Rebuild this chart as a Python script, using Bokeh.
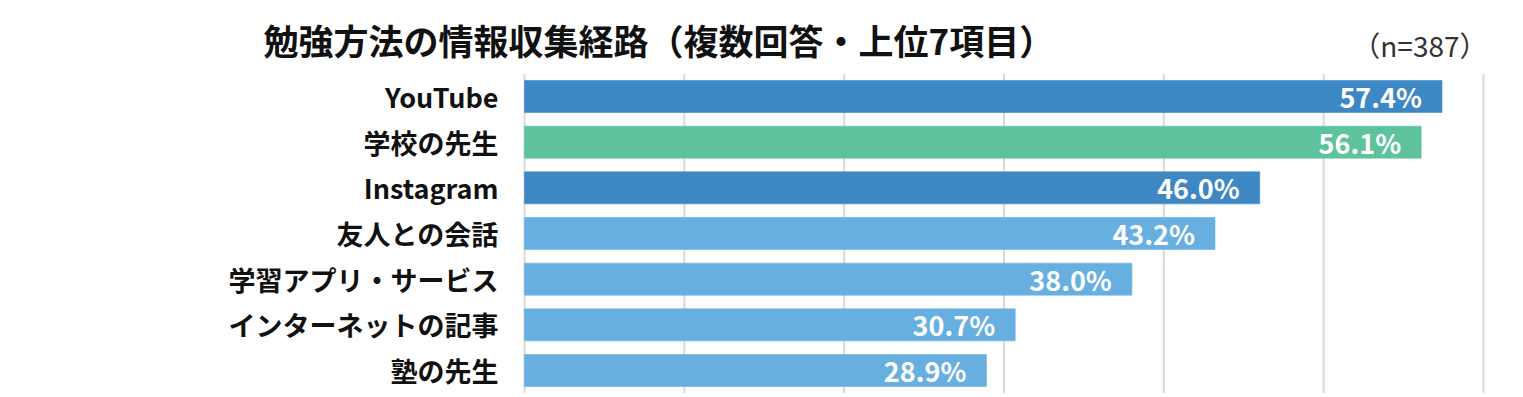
from bokeh.plotting import figure
from bokeh.models import ColumnDataSource, Range1d, Label
from bokeh.core.properties import value
from bokeh.embed import file_html
from bokeh.resources import INLINE

title_text = "勉強方法の情報収集経路（複数回答・上位7項目）"
n_text = "（n=387）"
categories = ["YouTube", "学校の先生", "Instagram", "友人との会話",
              "学習アプリ・サービス", "インターネットの記事", "塾の先生"]
values = [57.4, 56.1, 46.0, 43.2, 38.0, 30.7, 28.9]
colors = ["#3C87C4", "#5EC39D", "#3C87C4", "#67AFE0", "#67AFE0", "#67AFE0", "#67AFE0"]
grid_ticks = [0, 10, 20, 30, 40, 50, 60]

W, H = 1523, 397
# pixel layout of the plotting region
x0_px, x60_px = 524, 1483
top_c, bot_c = 96, 370
ppu = (x60_px - x0_px) / 60.0
step = (bot_c - top_c) / (len(categories) - 1)

pos = list(range(len(categories)))
labels = [f"{v:.1f}%" for v in values]
src = ColumnDataSource(dict(pos=pos, cat=categories, val=values, col=colors, lab=labels))

JP = "Noto Sans CJK JP"

p = figure(width=W, height=H, output_backend="svg", toolbar_location=None,
           x_range=Range1d(-x0_px / ppu, 60 + (W - x60_px) / ppu),
           y_range=Range1d(len(categories) - 1 + (H - bot_c) / step, -top_c / step),
           min_border=0)
p.outline_line_color = None
p.axis.visible = False
p.grid.visible = False

# gridlines (and axis line at 0)
gsrc = ColumnDataSource(dict(x=grid_ticks, y0=[-0.5] * len(grid_ticks),
                             y1=[len(categories) - 0.5] * len(grid_ticks)))
p.segment(x0="x", y0="y0", x1="x", y1="y1", source=gsrc,
          line_color="#D9D9D9", line_width=2)

p.hbar(y="pos", right="val", left=0, height=0.7, source=src,
       fill_color="col", line_color="col", line_alpha=0.6)

p.text(x="val", y="pos", text="lab", source=src, x_offset=-20,
       text_align="right", text_baseline="middle", text_color="white",
       text_font=value(JP), text_font_style="bold", text_font_size="27px")

p.text(x=0, y="pos", text="cat", source=src, x_offset=-26,
       text_align="right", text_baseline="middle", text_color="#111111",
       text_font=value(JP), text_font_style="bold", text_font_size="27px")

p.add_layout(Label(x=263, y=H - 39, x_units="screen", y_units="screen", text=title_text,
                   text_font=JP, text_font_style="bold", text_font_size="35px",
                   text_color="#111111", text_baseline="middle", text_align="left"))
p.add_layout(Label(x=1487, y=H - 44.5, x_units="screen", y_units="screen", text=n_text,
                   text_font=JP, text_font_size="28px",
                   text_color="#333333", text_baseline="middle", text_align="right"))

open("out.html", "w").write(file_html(p, INLINE))
